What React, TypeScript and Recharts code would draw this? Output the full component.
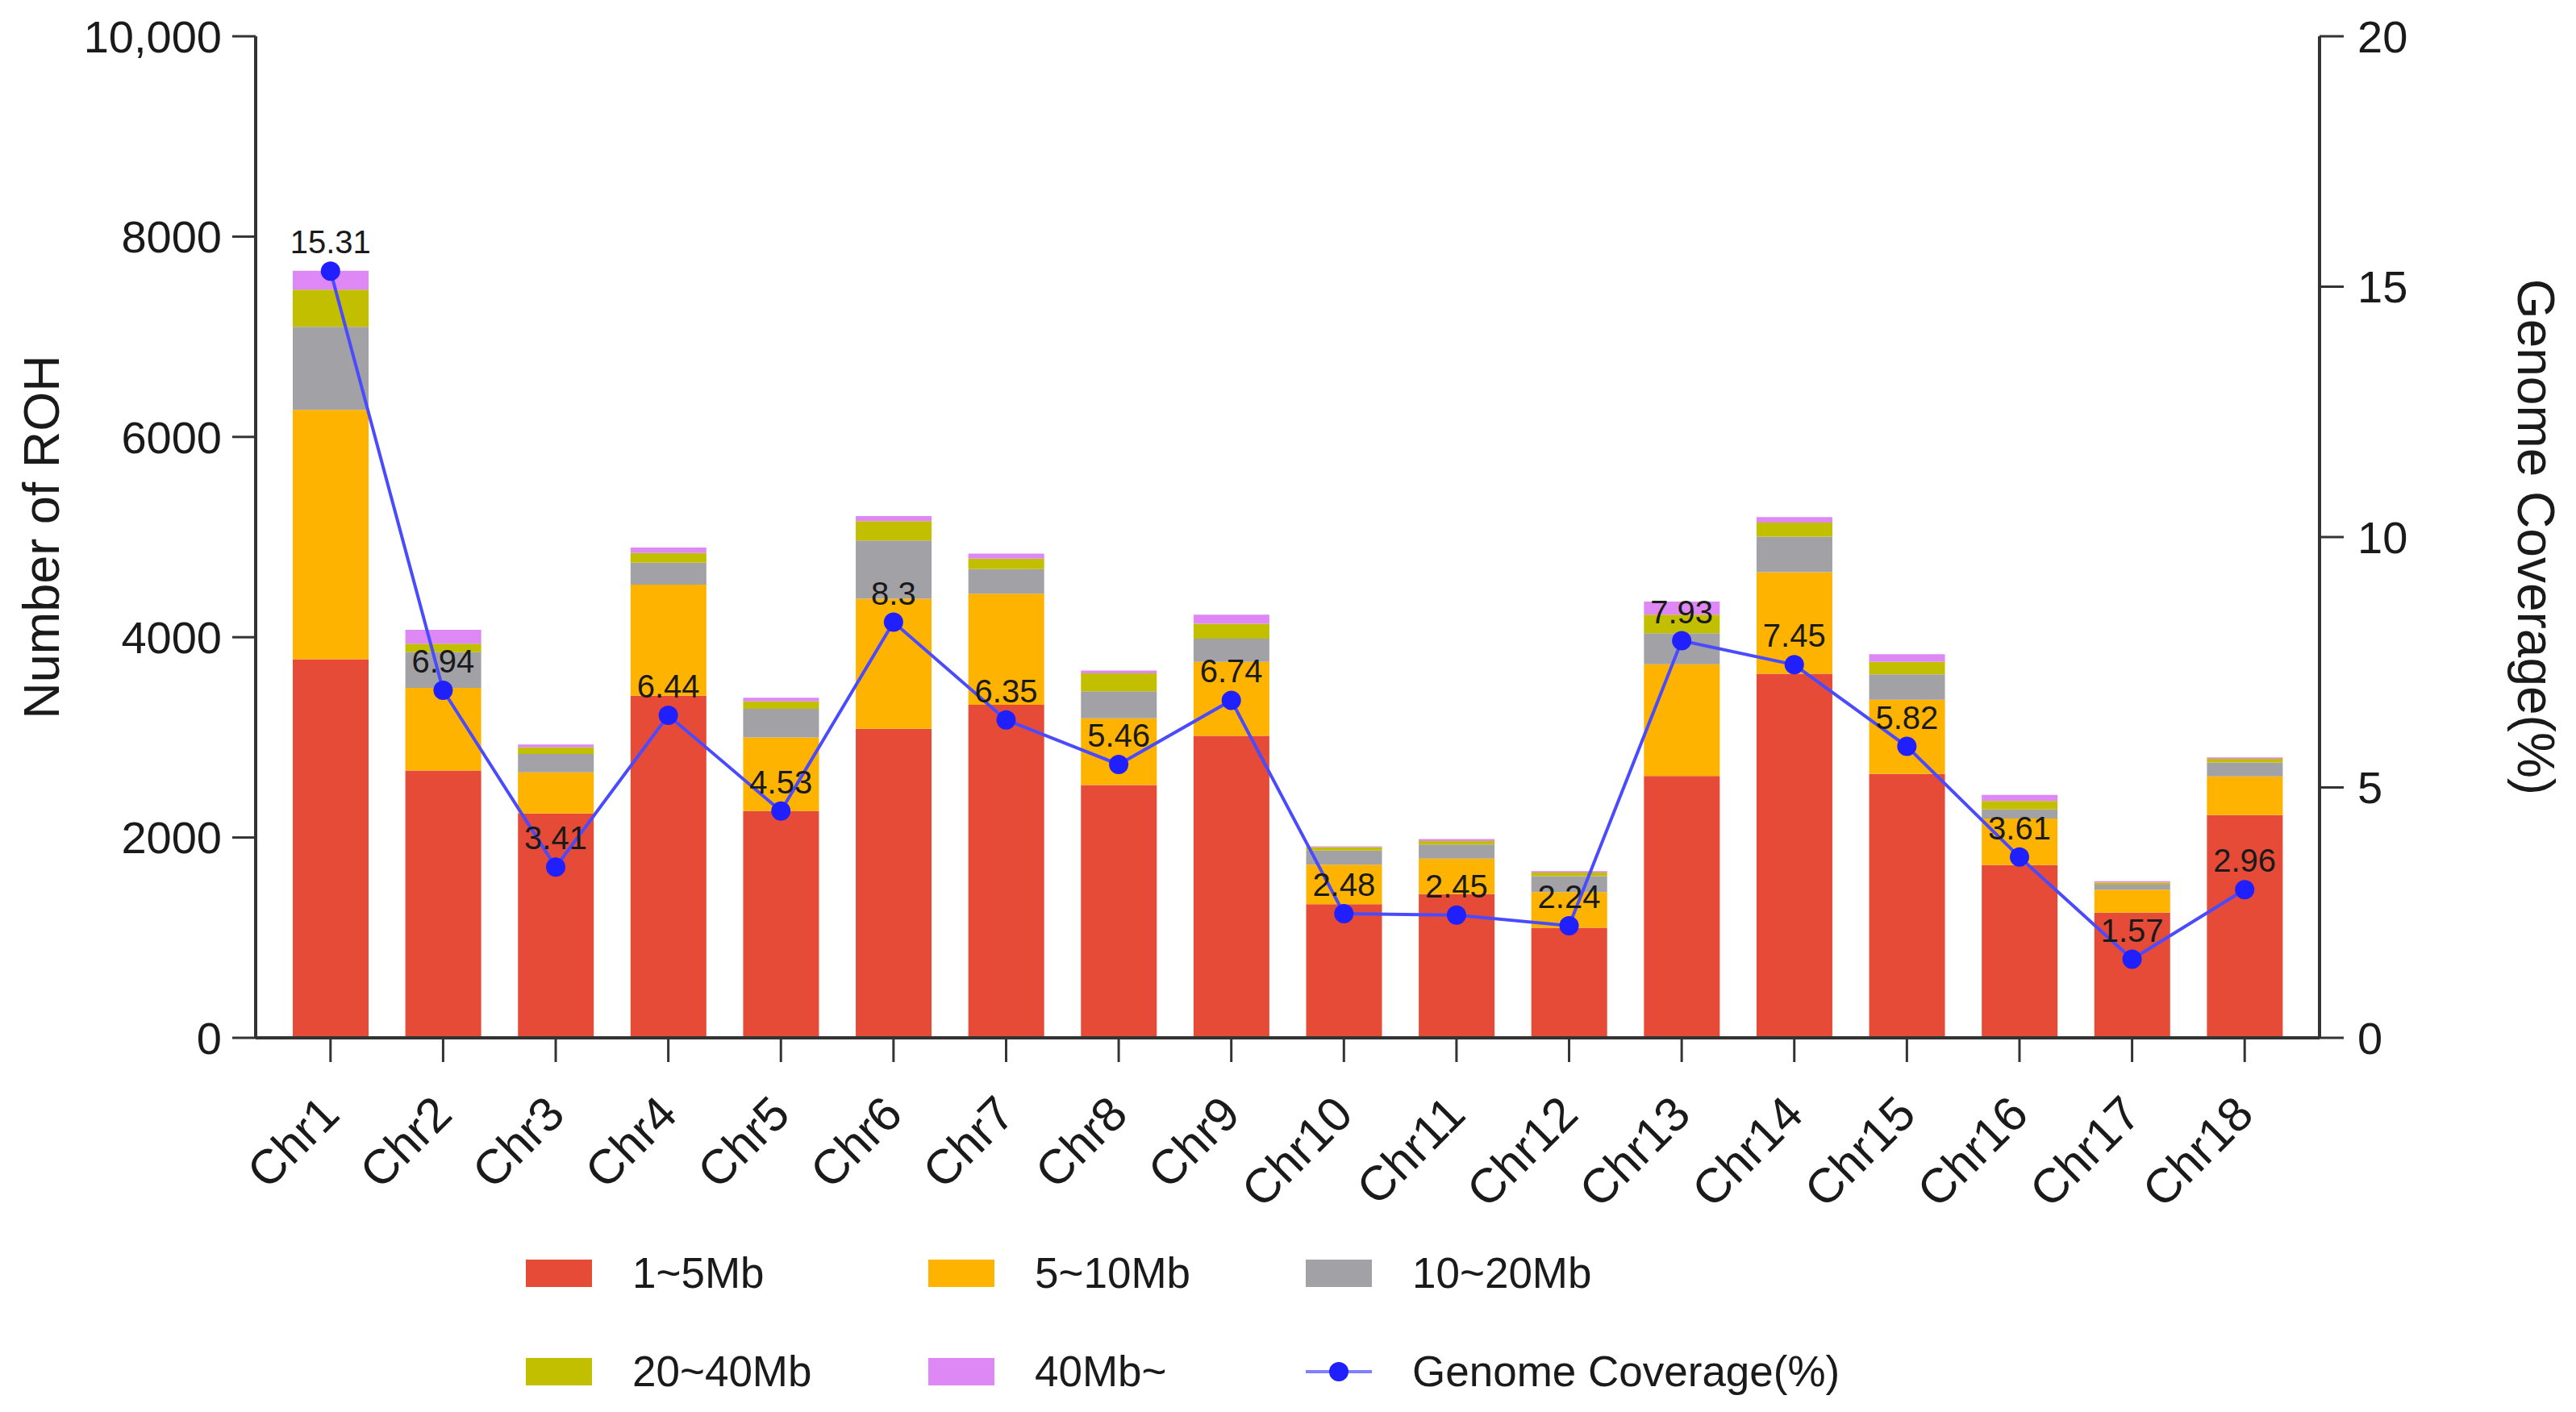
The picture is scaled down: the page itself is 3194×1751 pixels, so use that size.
import React from 'react';
import { ComposedChart, Bar, Line, XAxis, YAxis, Legend, LabelList } from 'recharts';

// ROH counts per chromosome, split by segment length class
const chromosomes = [
  'Chr1', 'Chr2', 'Chr3', 'Chr4', 'Chr5', 'Chr6', 'Chr7', 'Chr8', 'Chr9',
  'Chr10', 'Chr11', 'Chr12', 'Chr13', 'Chr14', 'Chr15', 'Chr16', 'Chr17', 'Chr18',
];
const roh1to5 = [3780, 2670, 2240, 3415, 2265, 3085, 3325, 2525, 3015, 1335, 1435, 1100, 2615, 3635, 2635, 1725, 1250, 2225];
const roh5to10 = [2490, 825, 410, 1110, 735, 1300, 1110, 665, 740, 395, 355, 355, 1115, 1015, 740, 465, 230, 385];
const roh10to20 = [830, 355, 185, 220, 285, 580, 245, 270, 230, 140, 140, 160, 310, 355, 255, 90, 50, 140];
const roh20to40 = [370, 85, 65, 95, 75, 195, 105, 180, 150, 35, 35, 35, 185, 140, 125, 85, 20, 35];
const roh40up = [190, 140, 28, 55, 35, 50, 50, 28, 90, 8, 20, 15, 130, 55, 75, 60, 15, 15];
const coverage = [15.31, 6.94, 3.41, 6.44, 4.53, 8.3, 6.35, 5.46, 6.74, 2.48, 2.45, 2.24, 7.93, 7.45, 5.82, 3.61, 1.57, 2.96];

const leftTicks = [0, 2000, 4000, 6000, 8000, 10000];
const rightTicks = [0, 5, 10, 15, 20];

const series = [
  { key: 'r1', name: '1~5Mb', color: '#E54B37' },
  { key: 'r2', name: '5~10Mb', color: '#FDB300' },
  { key: 'r3', name: '10~20Mb', color: '#A2A1A6' },
  { key: 'r4', name: '20~40Mb', color: '#C2BE00' },
  { key: 'r5', name: '40Mb~', color: '#DE88F5' },
];
const lineName = 'Genome Coverage(%)';

const data = chromosomes.map((chr, i) => ({
  chr,
  r1: roh1to5[i],
  r2: roh5to10[i],
  r3: roh10to20[i],
  r4: roh20to40[i],
  r5: roh40up[i],
  coverage: coverage[i],
}));

const FONT = '"Liberation Sans", Arial, sans-serif';
const AXIS = '#333333';
const TEXT = '#1a1a1a';

const ChrTick = (props: any) => {
  const { x, y, payload } = props;
  const ax = x + 14;
  const ay = y + 68;
  return (
    <text
      x={ax}
      y={ay}
      transform={`rotate(-45 ${ax} ${ay})`}
      textAnchor="end"
      fontSize={60}
      fontFamily={FONT}
      fill={TEXT}
    >
      {payload.value}
    </text>
  );
};

// legend laid out as a 3 x 2 grid like the original
const legendCols = [644, 1143, 1611];
const legendRows = [50, 172];

const ChartLegend = () => {
  const items = [
    ...series.map((s) => ({ name: s.name, color: s.color, line: false })),
    { name: lineName, color: '#2020FF', line: true },
  ];
  return (
    <div style={{ position: 'relative', width: 3178, height: 200, fontFamily: FONT }}>
      {items.map((it, i) => {
        const left = legendCols[i % 3];
        const top = legendRows[Math.floor(i / 3)];
        return (
          <React.Fragment key={it.name}>
            {it.line ? (
              <svg
                width={82}
                height={30}
                style={{ position: 'absolute', left, top: top - 15 }}
              >
                <line x1={0} y1={15} x2={82} y2={15} stroke="#7F7FFF" strokeWidth={4} />
                <circle cx={41} cy={15} r={12} fill={it.color} />
              </svg>
            ) : (
              <div
                style={{
                  position: 'absolute',
                  left,
                  top: top - 17,
                  width: 82,
                  height: 34,
                  background: it.color,
                }}
              />
            )}
            <div
              style={{
                position: 'absolute',
                left: left + 132,
                top: top - 32,
                fontSize: 53,
                lineHeight: '64px',
                color: TEXT,
                whiteSpace: 'nowrap',
              }}
            >
              {it.name}
            </div>
          </React.Fragment>
        );
      })}
    </div>
  );
};

export default function App() {
  return (
    <ComposedChart
      width={3178}
      height={1735}
      data={data}
      margin={{ top: 37, right: 0, left: 0, bottom: 14 }}
      style={{ fontFamily: FONT }}
    >
      <XAxis
        dataKey="chr"
        height={242}
        interval={0}
        padding={{ left: 23, right: 23 }}
        tickSize={30}
        tickMargin={0}
        tick={<ChrTick />}
        axisLine={{ stroke: AXIS, strokeWidth: 4 }}
        tickLine={{ stroke: AXIS, strokeWidth: 3 }}
      />
      <YAxis
        yAxisId="left"
        orientation="left"
        width={309}
        domain={[0, 10000]}
        ticks={leftTicks}
        interval={0}
        tickFormatter={(v: number) => (v >= 10000 ? v.toLocaleString('en-US') : String(v))}
        tickSize={29}
        tickMargin={13}
        tick={{ fontSize: 56, fill: TEXT, fontFamily: FONT }}
        axisLine={{ stroke: AXIS, strokeWidth: 4 }}
        tickLine={{ stroke: AXIS, strokeWidth: 3 }}
        label={{
          content: (p: any) => {
            const vb = p.viewBox;
            const cx = vb.x + 43;
            const cy = vb.y + vb.height / 2;
            return (
              <text
                x={cx}
                y={cy}
                transform={`rotate(-90 ${cx} ${cy})`}
                textAnchor="middle"
                dominantBaseline="central"
                fontSize={63}
                fontFamily={FONT}
                fill={TEXT}
              >
                Number of ROH
              </text>
            );
          },
        }}
      />
      <YAxis
        yAxisId="right"
        orientation="right"
        width={310}
        domain={[0, 20]}
        ticks={rightTicks}
        interval={0}
        tickSize={30}
        tickMargin={17}
        tick={{ fontSize: 56, fill: TEXT, fontFamily: FONT }}
        axisLine={{ stroke: AXIS, strokeWidth: 4 }}
        tickLine={{ stroke: AXIS, strokeWidth: 3 }}
        label={{
          content: (p: any) => {
            const vb = p.viewBox;
            const cx = vb.x + 268;
            const cy = vb.y + vb.height / 2;
            return (
              <text
                x={cx}
                y={cy}
                transform={`rotate(90 ${cx} ${cy})`}
                textAnchor="middle"
                dominantBaseline="central"
                fontSize={64}
                fontFamily={FONT}
                fill={TEXT}
              >
                {lineName}
              </text>
            );
          },
        }}
      />
      <Legend verticalAlign="bottom" content={<ChartLegend />} />
      {series.map((s) => (
        <Bar
          key={s.key}
          yAxisId="left"
          dataKey={s.key}
          name={s.name}
          stackId="roh"
          fill={s.color}
          barSize={94}
          isAnimationActive={false}
        />
      ))}
      <Line
        yAxisId="right"
        dataKey="coverage"
        name={lineName}
        type="linear"
        stroke="#4A4AFF"
        strokeWidth={4}
        dot={{ r: 12, fill: '#2020FF', stroke: 'none' }}
        activeDot={false}
        isAnimationActive={false}
      >
        <LabelList
          dataKey="coverage"
          position="top"
          offset={22}
          fontSize={40}
          fill={TEXT}
          fontFamily={FONT}
        />
      </Line>
    </ComposedChart>
  );
}
